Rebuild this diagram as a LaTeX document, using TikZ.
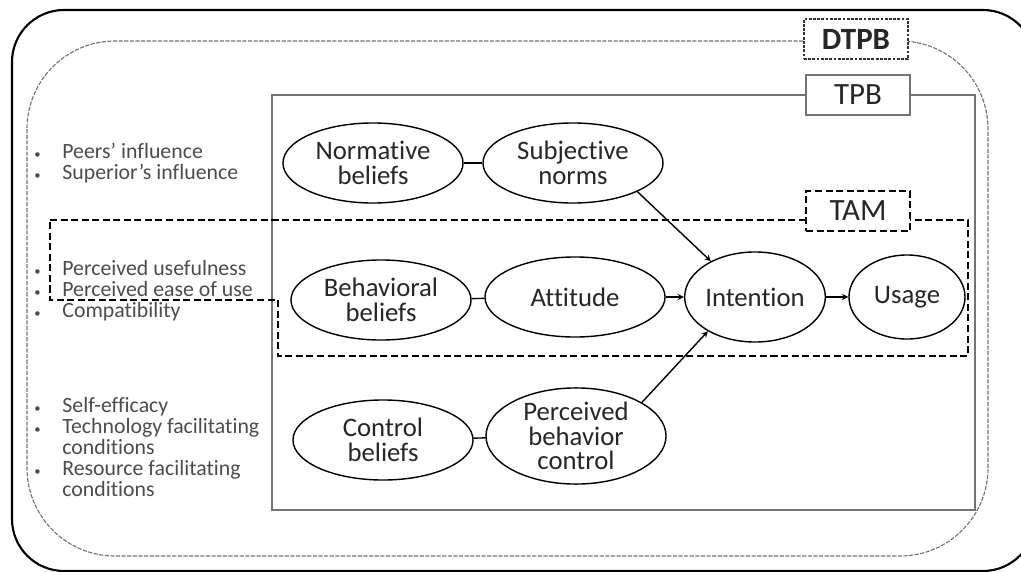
\documentclass[tikz,border=0pt]{standalone}
\usepackage{fontspec}
\setmainfont{Carlito}[Ligatures=NoCommon]
\usetikzlibrary{shapes.geometric}

\begin{document}
\begin{tikzpicture}[x=0.025cm, y=-0.025cm, >=stealth,
    construct/.style={draw, ellipse, line width=1pt, inner sep=0pt, align=center,
        minimum width=4.5cm, minimum height=2cm, text=black!85,
        font=\fontsize{19}{17.5}\selectfont},
    tag/.style={draw, fill=white, minimum width=2.6cm, minimum height=1cm,
        text=black!85, font=\fontsize{22}{22}\selectfont},
    factors/.style={anchor=base west, inner sep=0pt, text=black!70,
        font=\fontsize{15.5}{14}\selectfont},
    tamline/.style={line width=1.6pt, dash pattern=on 5pt off 2.5pt}]
    \useasboundingbox (0,0) rectangle (1021,572);
    % outer frame
    \begin{scope}
        \clip (0,0) rectangle (1021,572);
        \draw[line width=1.5pt, rounded corners=1.3cm] (12,10) rectangle (1035,571);
    \end{scope}
    % model frames
    \draw[black!55, line width=0.8pt, dash pattern=on 3pt off 1pt, rounded corners=2.2cm] (27,41) rectangle (988,556);
    \draw[black!55, line width=1pt] (272,95) rectangle (975,510);
    \draw[tamline] (50,220) -- (968,220) -- (968,356) -- (278,356) -- (278,300) -- (50,300) -- cycle;
    \node[tag, draw=black!80, line width=0.8pt, dash pattern=on 2pt off 1pt] (dtpb) at (856,39) {\textbf{DTPB}};
    \node[tag, draw=black!55, line width=1pt] (tpb) at (858,95) {TPB};
    \node[tag, tamline] (tam) at (858,211) {TAM};
    % constructs
    \node[construct] (normbel) at (373,163) {Normative\\beliefs};
    \node[construct] (subnorm) at (573,163) {Subjective\\norms};
    \node[construct] (behbel) at (381,300) {Behavioral\\beliefs};
    \node[construct] (attitude) at (575,297) {Attitude};
    \node[construct, minimum width=3.1cm, minimum height=2.25cm] (intention) at (755,297) {Intention};
    \node[construct, minimum width=2.9cm, minimum height=2.1cm] (usage) at (907,297) {Usage};
    \node[construct] (ctrlbel) at (383,440) {Control\\beliefs};
    \node[construct, minimum height=2.2cm] (pbc) at (576,436) {Perceived\\behavior\\control};
    \draw[line width=1pt] (normbel) -- (subnorm);
    \draw[line width=1pt] (behbel) -- (attitude);
    \draw[line width=1pt] (ctrlbel) -- (pbc);
    \draw[->, line width=1pt] (subnorm.-24) -- (intention.141);
    \draw[->, line width=1pt] (attitude) -- (intention);
    \draw[->, line width=1pt] (intention) -- (usage);
    \draw[->, line width=1pt] (pbc.27) -- (intention.216);
    % external factors
    \node[factors] (social) at (34,158) {\begin{tabular}[t]{@{}p{20pt}@{}l@{}}
        {\small\textbullet} & Peers' influence\\
        {\small\textbullet} & Superior's influence
    \end{tabular}};
    \node[factors] (attrib) at (34,275) {\begin{tabular}[t]{@{}p{20pt}@{}l@{}}
        {\small\textbullet} & Perceived usefulness\\
        {\small\textbullet} & Perceived ease of use\\
        {\small\textbullet} & Compatibility
    \end{tabular}};
    \node[factors] (facil) at (34,412) {\begin{tabular}[t]{@{}p{20pt}@{}l@{}}
        {\small\textbullet} & Self-efficacy\\
        {\small\textbullet} & Technology facilitating\\
                    & conditions\\
        {\small\textbullet} & Resource facilitating\\
                    & conditions
    \end{tabular}};
\end{tikzpicture}
\end{document}
